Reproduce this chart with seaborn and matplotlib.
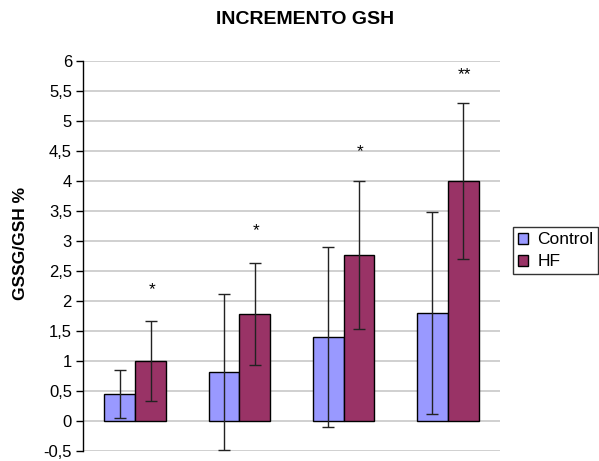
import matplotlib
matplotlib.use("Agg")
import matplotlib.pyplot as plt
import seaborn as sns
import pandas as pd
import numpy as np

groups = ["G1", "G2", "G3", "G4"]
control = [0.45, 0.82, 1.40, 1.80]
hf = [1.00, 1.78, 2.77, 4.00]
control_err = [0.40, 1.30, 1.50, 1.68]
hf_err = [0.66, 0.85, 1.23, 1.30]
star_labels = ["*", "*", "*", "**"]
star_y = [2.11, 3.09, 4.41, 5.69]
yticks = [-0.5, 0, 0.5, 1, 1.5, 2, 2.5, 3, 3.5, 4, 4.5, 5, 5.5, 6]
series = ["Control", "HF"]

sns.set_theme(style="white")
plt.rcParams["font.family"] = ["Liberation Sans", "DejaVu Sans"]
plt.rcParams["text.color"] = "black"
plt.rcParams["ytick.color"] = "black"
plt.rcParams["ytick.labelcolor"] = "black"

df = pd.DataFrame({
    "group": groups * 2,
    "value": control + hf,
    "serie": ["Control"] * 4 + ["HF"] * 4,
})

fig = plt.figure(figsize=(5.99, 4.61), dpi=100)
ax = fig.add_axes([0.1386, 0.0217, 0.696, 0.846])
for y in yticks:
    ax.axhline(y, color="#c8c8c8", lw=1.2, zorder=0)

sns.barplot(data=df, x="group", y="value", hue="serie", hue_order=series, ax=ax,
            palette={"Control": "#9999FF", "HF": "#993366"},
            errorbar=None, width=0.59, edgecolor="black", linewidth=1.0,
            saturation=1, zorder=2)

errs = {"Control": control_err, "HF": hf_err}
vals = {"Control": control, "HF": hf}
for lab, cont in zip(series, ax.containers):
    xs = [p.get_x() + p.get_width() / 2 for p in cont.patches]
    ax.errorbar(xs, vals[lab], yerr=errs[lab], fmt="none", ecolor="#222222",
                elinewidth=1.0, capsize=4, capthick=1.0, zorder=3)

for i, (s, y) in enumerate(zip(star_labels, star_y)):
    ax.text(i + 0.16, y, s, ha="center", va="baseline", fontsize=12.5, color="black")

ax.set_xlim(-0.5, 3.5)
ax.set_ylim(-0.5, 6)
ax.set_yticks(yticks)
ax.set_yticklabels([("%g" % t).replace(".", ",") for t in yticks], fontsize=12, color="black")
ax.set_xticks([])
ax.set_xlabel("")
ax.set_ylabel("")
ax.tick_params(axis="y", direction="out", length=5, width=1, color="black", left=True, pad=3)
for s in ["top", "right", "bottom"]:
    ax.spines[s].set_visible(False)
ax.spines["left"].set_color("black")
ax.spines["left"].set_linewidth(1.0)

fig.text(0.035, 0.471, "GSSG/GSH %", rotation=90, ha="center", va="center",
         fontsize=12.5, fontweight="bold", color="black")
fig.text(0.509, 0.948, "INCREMENTO GSH", ha="center", va="baseline",
         fontsize=14, fontweight="bold", color="black")

leg = ax.legend(loc="upper left", bbox_to_anchor=(1.031, 0.574), fontsize=12.5,
                frameon=True, fancybox=False, edgecolor="black",
                handlelength=0.6, handleheight=0.6, handletextpad=0.5,
                borderpad=0.3, labelspacing=0.4, borderaxespad=0)
leg.get_frame().set_linewidth(1.0)
for t in leg.get_texts():
    t.set_color("black")

fig.savefig("out.png", dpi=100)
